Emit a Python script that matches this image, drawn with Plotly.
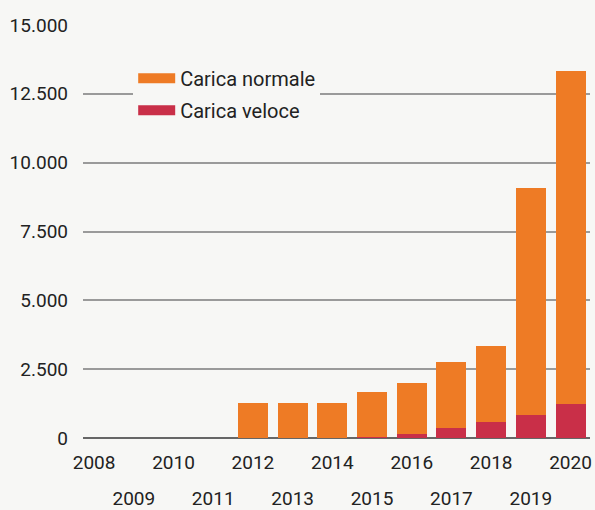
import plotly.graph_objects as go

years = [2008, 2009, 2010, 2011, 2012, 2013, 2014, 2015, 2016, 2017, 2018, 2019, 2020]
carica_veloce = [0, 0, 0, 0, 0, 0, 0, 20, 150, 350, 590, 835, 1220]
carica_normale = [0, 0, 0, 0, 1270, 1270, 1280, 1660, 1840, 2400, 2760, 8235, 12110]
y_ticks = [0, 2500, 5000, 7500, 10000, 12500, 15000]
even_years = [y for y in years if y % 2 == 0]
odd_years = [y for y in years if y % 2 == 1]

ORANGE = "#EE7B25"
RED = "#C92F48"
BG = "#F7F7F5"
FONT = "Roboto"

fig = go.Figure()
fig.add_trace(go.Bar(x=years, y=carica_veloce, name="Carica veloce",
                     marker=dict(color=RED, line=dict(width=0)), showlegend=False))
fig.add_trace(go.Bar(x=years, y=carica_normale, name="Carica normale",
                     marker=dict(color=ORANGE, line=dict(width=0)), showlegend=False))
# legend entries
fig.add_trace(go.Scatter(x=[None], y=[None], mode="lines", name="Carica normale",
                         line=dict(color=ORANGE, width=16), legendgroup="a"))
fig.add_trace(go.Scatter(x=[None], y=[None], mode="lines", name="Carica veloce",
                         line=dict(color=RED, width=16), legendgroup="b"))
# second row of year labels
fig.add_trace(go.Scatter(x=odd_years, y=[None] * len(odd_years), xaxis="x2",
                         mode="markers", showlegend=False, hoverinfo="skip"))

xr = [2007.72, 2020.49]
fig.update_layout(
    width=595, height=510,
    margin=dict(l=83, r=5, t=25, b=72),
    paper_bgcolor=BG, plot_bgcolor=BG,
    barmode="stack", bargap=0.244,
    separators=",.",
    font=dict(family=FONT, size=19, color="#222222"),
    showlegend=True,
    legend=dict(x=0.099, y=0.918, xanchor="left", yanchor="top",
                bgcolor=BG, borderwidth=0, tracegroupgap=3,
                traceorder="grouped", itemwidth=37,
                font=dict(family=FONT, size=20, color="#222222")),
    xaxis=dict(range=xr, tickvals=even_years, ticktext=[str(y) for y in even_years],
               showgrid=False, zeroline=False, showline=False, ticks="",
               automargin=False,
               ticklabelstandoff=11, tickfont=dict(size=19)),
    xaxis2=dict(range=xr, overlaying="x", side="bottom", anchor="y",
                tickvals=odd_years, ticktext=[str(y) for y in odd_years],
                showgrid=False, zeroline=False, showline=False, ticks="",
                automargin=False,
                ticklabelstandoff=47, tickfont=dict(size=19)),
    yaxis=dict(range=[0, 15000], tickvals=y_ticks, tickformat=",d",
               showgrid=True, gridcolor="#9A9A9A", gridwidth=2,
               zeroline=True, zerolinecolor="#666666", zerolinewidth=2,
               showline=False, ticks="", ticklabelstandoff=14,
               automargin=False,
               tickfont=dict(size=19)),
)

fig.write_html("out.html", config={"displayModeBar": False},
               post_script="document.body.style.margin='0';document.body.style.background='#F7F7F5';")
